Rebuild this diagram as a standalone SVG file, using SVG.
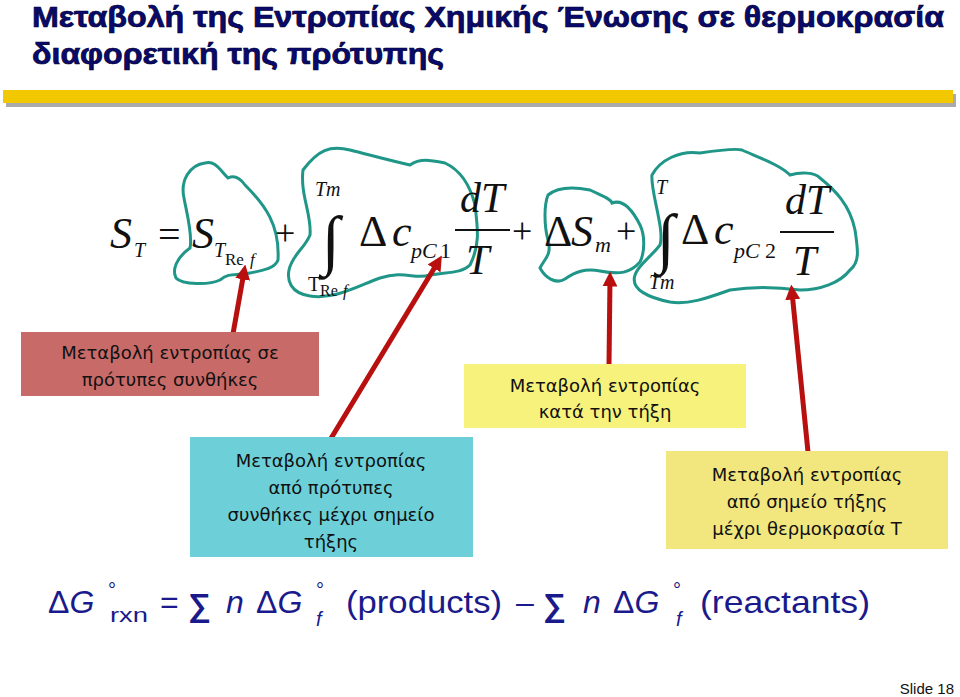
<svg xmlns="http://www.w3.org/2000/svg" width="960" height="697" viewBox="0 0 960 697">
<style>
.t{font-family:"Liberation Sans",Arial,sans-serif;font-weight:bold;font-size:29px;fill:#0a0a6e;stroke:#000030;stroke-width:0.7px}
.m{font-family:"Liberation Serif","Times New Roman",serif;fill:#111}
.i{font-style:italic}
.lbl{font-family:"DejaVu Sans",sans-serif;font-size:18px;fill:#111;text-anchor:middle}
.blob{fill:none;stroke:#1f9688;stroke-width:3}
.ar{stroke:#b80f0f;stroke-width:5;fill:none}
.g{font-family:"Liberation Sans",Arial,sans-serif;font-size:32px;fill:#1a1a8c}
.gs{font-family:"Liberation Sans",Arial,sans-serif;font-size:20px;fill:#1a1a8c}
</style>
<defs><marker id="ah" viewBox="0 0 10 10" refX="5" refY="5" markerWidth="3" markerHeight="3" orient="auto"><path d="M0,0L10,5L0,10z" fill="#b80f0f"/></marker></defs>
<rect width="960" height="697" fill="#fff"/>
<g id="title">
<text class="t" x="32" y="27" textLength="912" lengthAdjust="spacingAndGlyphs">Μεταβολή της Εντροπίας Χημικής Ένωσης σε θερμοκρασία</text>
<text class="t" x="32" y="64" textLength="412" lengthAdjust="spacingAndGlyphs">διαφορετική της πρότυπης</text>
<rect x="6" y="94" width="950" height="13" fill="#aaaaaa"/>
<rect x="3" y="90" width="950" height="13" fill="#f2c800"/>
</g>
<g id="formula">
<path class="blob" d="M184,198C180,180 190,165 205,163C215,160 220,170 228,178C234,175 240,178 245,185C265,205 280,225 278,260C275,268 265,270 250,273C235,276 230,272 220,280C210,285 182,285 176,278C172,270 176,258 190,248C193,235 186,210 184,198Z"/>
<path class="blob" d="M303,170C318,150 330,145 350,150C370,155 388,160 410,165C420,158 430,160 445,163C460,170 470,185 475,205C478,230 480,245 470,265C462,273 450,272 430,275C415,280 405,270 380,278C360,285 335,300 310,296C290,293 287,280 289,270C292,255 305,248 310,235C312,215 300,195 303,170Z"/>
<path class="blob" d="M548,195C560,185 580,188 590,190C600,195 610,198 612,203C620,200 630,205 640,225C645,235 645,252 640,262C630,273 620,275 600,271C585,268 575,272 565,279C555,285 545,277 540,268C545,258 552,255 548,240C544,225 544,205 548,195Z"/>
<path class="blob" d="M652,175C660,160 680,150 700,153C720,150 735,148 742,150C760,158 780,165 790,175C800,172 815,172 820,178C835,190 850,205 855,230C858,250 860,262 850,270C840,283 820,290 800,290C785,288 760,285 730,290C710,297 690,305 670,302C650,298 630,290 635,275C638,265 650,258 660,245C665,230 650,190 652,175Z"/>
<text class="m i" x="110" y="248" font-size="44">S</text>
<text class="m i" x="134" y="257" font-size="20">T</text>
<text class="m" x="158" y="248" font-size="40">=</text>
<text class="m i" x="192" y="248" font-size="44">S</text>
<text class="m i" x="214" y="257" font-size="20">T</text>
<text class="m" x="225" y="265" font-size="17">Re</text>
<text class="m i" x="250" y="265" font-size="17">f</text>
<text class="m" x="275" y="245" font-size="36">+</text>
<text class="m i" x="315" y="196" font-size="20">Tm</text>
<text class="m" x="322" y="262" font-size="66">∫</text>
<text class="m" x="308" y="291" font-size="20">T</text>
<text class="m" x="320" y="296" font-size="16">Re</text>
<text class="m i" x="343" y="296" font-size="16">f</text>
<text class="m" x="359" y="246" font-size="44">Δ</text>
<text class="m i" x="392" y="246" font-size="44">c</text>
<text class="m i" x="411" y="258" font-size="22">pC</text>
<text class="m" x="440" y="258" font-size="22">1</text>
<text class="m i" x="460" y="212" font-size="42">dT</text>
<line x1="455" y1="230" x2="510" y2="230" stroke="#111" stroke-width="2"/>
<text class="m i" x="466" y="274" font-size="42">T</text>
<text class="m" x="512" y="243" font-size="36">+</text>
<text class="m" x="544" y="246" font-size="44">Δ</text>
<text class="m i" x="571" y="246" font-size="44">S</text>
<text class="m i" x="595" y="252" font-size="22">m</text>
<text class="m" x="616" y="243" font-size="36">+</text>
<text class="m i" x="656" y="194" font-size="20">T</text>
<text class="m" x="657" y="260" font-size="66">∫</text>
<text class="m i" x="649" y="289" font-size="20">Tm</text>
<text class="m" x="681" y="244" font-size="44">Δ</text>
<text class="m i" x="714" y="244" font-size="44">c</text>
<text class="m i" x="734" y="258" font-size="22">pC</text>
<text class="m" x="765" y="258" font-size="22">2</text>
<text class="m i" x="785" y="214" font-size="42">dT</text>
<line x1="780" y1="232" x2="834" y2="232" stroke="#111" stroke-width="2"/>
<text class="m i" x="793" y="275" font-size="42">T</text>
</g>
<g id="connectors">
<line class="ar" x1="231" y1="345" x2="244" y2="272" marker-end="url(#ah)"/>
<line class="ar" x1="330" y1="440" x2="438" y2="262" marker-end="url(#ah)"/>
<line class="ar" x1="609" y1="364" x2="610" y2="279" marker-end="url(#ah)"/>
<line class="ar" x1="808" y1="452" x2="792" y2="292" marker-end="url(#ah)"/>
</g>
<g id="n1"><rect x="21" y="332" width="298" height="64" fill="#c86a68"/><text class="lbl" x="170" y="359">Μεταβολή εντροπίας σε</text><text class="lbl" x="170" y="386">πρότυπες συνθήκες</text></g>
<g id="n2"><rect x="464" y="364" width="282" height="64" fill="#f6f27c"/><text class="lbl" x="605" y="392">Μεταβολή εντροπίας</text><text class="lbl" x="605" y="418">κατά την τήξη</text></g>
<g id="n3"><rect x="190" y="437" width="283" height="120" fill="#6dd0d8"/><text class="lbl" x="331" y="467">Μεταβολή εντροπίας</text><text class="lbl" x="331" y="494">από πρότυπες</text><text class="lbl" x="331" y="521">συνθήκες μέχρι σημείο</text><text class="lbl" x="331" y="548">τήξης</text></g>
<g id="n4"><rect x="666" y="451" width="282" height="98" fill="#f2e77e"/><text class="lbl" x="807" y="481">Μεταβολή εντροπίας</text><text class="lbl" x="807" y="508">από σημείο τήξης</text><text class="lbl" x="807" y="535">μέχρι θερμοκρασία T</text></g>
<g id="gibbs">
<text class="g" x="48" y="613">Δ<tspan font-style="italic">G</tspan></text>
<text class="gs" x="108" y="597">°</text>
<text class="gs" x="110" y="622" textLength="38" lengthAdjust="spacingAndGlyphs">rxn</text>
<text class="g" x="160" y="613">=</text>
<text class="g" x="188" y="616" font-size="40" font-weight="bold">∑</text>
<text class="g i" x="226" y="613">n</text>
<text class="g" x="256" y="613">Δ<tspan font-style="italic">G</tspan></text>
<text class="gs" x="316" y="597">°</text>
<text class="gs i" x="316" y="626">f</text>
<text class="g" x="346" y="613" textLength="156" lengthAdjust="spacingAndGlyphs">(products)</text>
<text class="g" x="516" y="613">–</text>
<text class="g" x="543" y="616" font-size="40" font-weight="bold">∑</text>
<text class="g i" x="583" y="613">n</text>
<text class="g" x="613" y="613">Δ<tspan font-style="italic">G</tspan></text>
<text class="gs" x="673" y="597">°</text>
<text class="gs i" x="676" y="626">f</text>
<text class="g" x="700" y="613" textLength="170" lengthAdjust="spacingAndGlyphs">(reactants)</text>
</g>
<text x="954" y="694" font-family="Liberation Sans,Arial,sans-serif" font-size="15" text-anchor="end" fill="#111">Slide 18</text>
</svg>
